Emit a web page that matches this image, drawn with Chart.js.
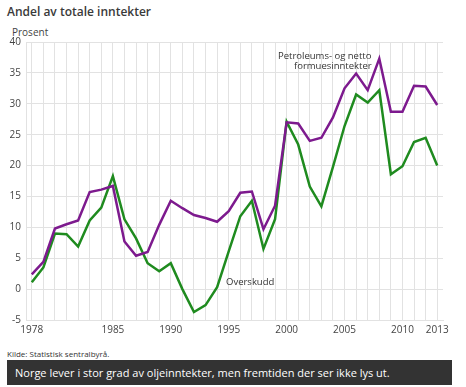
<!DOCTYPE html>
<html>
<head>
<meta charset="utf-8">
<script src="https://cdn.jsdelivr.net/npm/chart.js@4/dist/chart.umd.min.js"></script>
<style>
  body { margin: 0; width: 466px; height: 387px; background: #fff; font-family: "Open Sans", sans-serif; color: #333; position: relative; overflow: hidden; }
  #title { position: absolute; left: 7px; top: 3px; font-size: 12px; font-weight: 600; color: #3a3a3a; }
  #unit { position: absolute; left: 12px; top: 25px; font-size: 10px; color: #444; }
  #wrap { position: absolute; left: 0; top: 0; width: 466px; height: 345px; }
  .lbl { position: absolute; font-size: 9.5px; color: #333; line-height: 10px; }
  #src { position: absolute; left: 7px; top: 348px; font-size: 8px; color: #333; }
  #bar { position: absolute; left: 7px; top: 360px; width: 445px; height: 25px; background: #333; color: #fff; font-size: 11px; line-height: 25px; box-sizing: border-box; padding-left: 8px; }
</style>
</head>
<body>
<div id="title">Andel av totale inntekter</div>
<div id="unit">Prosent</div>
<div id="wrap"><canvas id="chart"></canvas></div>
<div class="lbl" style="left:278px; top:51px;">Petroleums- og netto</div>
<div class="lbl" style="left:294px; top:61px;">formuesinntekter</div>
<div class="lbl" style="left:226px; top:277px;">Overskudd</div>
<div id="src">Kilde: Statistisk sentralbyrå.</div>
<div id="bar">Norge lever i stor grad av oljeinntekter, men fremtiden der ser ikke lys ut.</div>
<script>
var years = [];
for (var y = 1978; y <= 2013; y++) years.push(String(y));

var shownYears = ['1978', '1985', '1990', '1995', '2000', '2005', '2010', '2013'];

var petroleum = [2.4, 4.4, 9.8, 10.5, 11.1, 15.7, 16.1, 16.7, 7.7, 5.4, 6.0, 10.4,
                 14.3, 13.1, 12.0, 11.5, 10.9, 12.6, 15.6, 15.8, 9.7, 13.5,
                 27.0, 26.8, 24.0, 24.5, 27.8, 32.5, 34.9, 32.2, 37.3, 28.7, 28.7, 32.9, 32.8, 29.8];

var overskudd = [1.1, 3.5, 9.0, 8.9, 6.9, 11.1, 13.2, 18.3, 11.3, 8.2, 4.2, 2.9,
                 4.2, 0.0, -3.7, -2.6, 0.3, 6.1, 11.8, 14.3, 6.5, 11.3,
                 27.1, 23.4, 16.6, 13.4, 19.8, 26.4, 31.5, 30.2, 32.2, 18.6, 19.9, 23.8, 24.5, 20.0];

Chart.defaults.font.family = '"Open Sans", sans-serif';
Chart.defaults.color = '#444';

var ctx = document.getElementById('chart').getContext('2d');
var chart = new Chart(ctx, {
  type: 'line',
  data: {
    labels: years,
    datasets: [{
      label: 'Petroleums- og netto formuesinntekter',
      data: petroleum,
      borderColor: '#7d1a8e',
      borderWidth: 2.5,
      pointRadius: 0,
      tension: 0
    }, {
      label: 'Overskudd',
      data: overskudd,
      borderColor: '#1f8b1f',
      borderWidth: 2.5,
      pointRadius: 0,
      tension: 0
    }]
  },
  options: {
    responsive: true,
    maintainAspectRatio: false,
    animation: false,
    layout: { padding: { top: 42, right: 23, left: 0, bottom: 0 } },
    plugins: { legend: { display: false }, tooltip: { enabled: false } },
    scales: {
      x: {
        offset: true,
        grid: { color: '#e2e2e2', drawTicks: false, offset: false },
        border: { color: '#e2e2e2' },
        ticks: {
          autoSkip: false,
          maxRotation: 0,
          padding: 4,
          font: { size: 10 },
          callback: function (v, i) {
            var lab = years[i];
            return shownYears.indexOf(lab) >= 0 ? lab : '';
          }
        },
        afterFit: function (s) { s.height = 25; }
      },
      y: {
        min: -5,
        max: 40,
        grid: { color: '#e2e2e2', drawTicks: false },
        border: { color: '#e2e2e2' },
        ticks: { stepSize: 5, padding: 5, font: { size: 10 } },
        afterFit: function (s) { s.width = 26; }
      }
    }
  }
});
</script>
</body>
</html>
